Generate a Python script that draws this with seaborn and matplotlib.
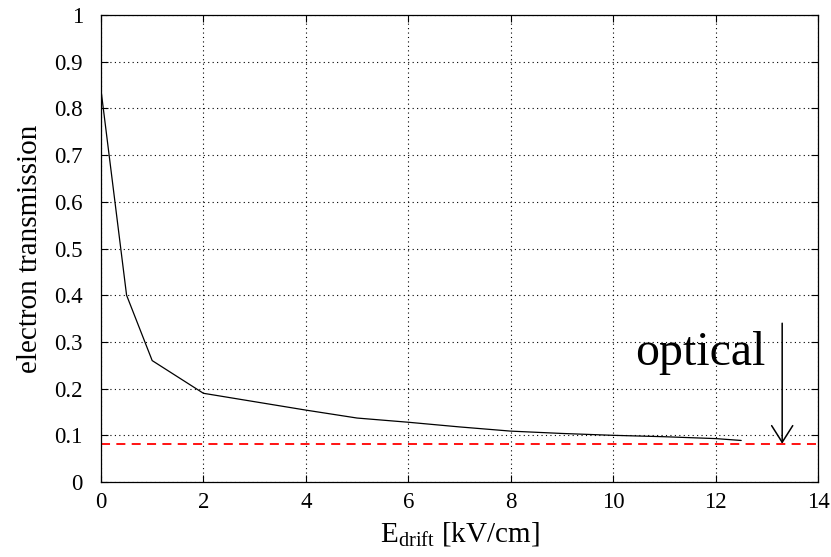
import matplotlib
matplotlib.use("Agg")
import matplotlib.pyplot as plt
import seaborn as sns
import pandas as pd
import numpy as np

# Data
e_drift = [0, 0.5, 1, 2, 3, 4, 5, 6, 7, 8, 9, 10, 11, 12, 12.5]
transmission = [0.84, 0.40, 0.26, 0.19, 0.172, 0.154, 0.137, 0.128, 0.118,
                0.109, 0.104, 0.100, 0.097, 0.093, 0.089]
optical_level = 0.082
x_ticks = [0, 2, 4, 6, 8, 10, 12, 14]
y_ticks = [0, 0.1, 0.2, 0.3, 0.4, 0.5, 0.6, 0.7, 0.8, 0.9, 1]
y_tick_labels = ["0", "0.1", "0.2", "0.3", "0.4", "0.5", "0.6", "0.7", "0.8", "0.9", "1"]
x_tick_labels = ["0", "2", "4", "6", "8", "10", "12", "14"]

sns.set_style("ticks")
plt.rcParams["font.family"] = ["Liberation Serif", "DejaVu Serif"]
plt.rcParams["mathtext.fontset"] = "custom"
plt.rcParams["mathtext.rm"] = "Liberation Serif"
plt.rcParams["mathtext.it"] = "Liberation Serif"
plt.rcParams["text.color"] = "black"
plt.rcParams["axes.labelcolor"] = "black"
plt.rcParams["xtick.color"] = "black"
plt.rcParams["ytick.color"] = "black"

fig = plt.figure(figsize=(8.31, 5.57), dpi=100)
ax = fig.add_axes([0.1215, 0.1346, 0.8629, 0.8385])

df = pd.DataFrame({"E": e_drift, "T": transmission})
sns.lineplot(data=df, x="E", y="T", ax=ax, color="black", linewidth=0.9)
ax.axhline(optical_level, color="#ff0000", linestyle=(0, (5, 3.5)), linewidth=1.3)

ax.annotate("", xy=(13.3, optical_level), xytext=(13.3, 0.34),
            arrowprops=dict(arrowstyle="->,head_length=0.6,head_width=0.38",
                            color="black", lw=1.1, mutation_scale=20,
                            shrinkA=0, shrinkB=0))
ax.text(10.43, 0.25, "optical", fontsize=34.5, ha="left", va="baseline", color="black")

ax.set_xlim(0, 14)
ax.set_ylim(0, 1)
ax.set_xticks(x_ticks)
ax.set_xticklabels(x_tick_labels)
ax.set_yticks(y_ticks)
ax.set_yticklabels(y_tick_labels)
ax.tick_params(axis="both", direction="in", length=5, width=0.8, labelsize=16.5,
               top=True, right=True, colors="black")
ax.tick_params(axis="y", pad=13)
ax.tick_params(axis="x", pad=7)
ax.grid(True, color="black", linestyle=(0, (1, 3)), linewidth=0.8)
for s in ax.spines.values():
    s.set_visible(True)
    s.set_color("black")
    s.set_linewidth(0.9)

ax.set_xlabel(r"E$_{\mathrm{drift}}$ [kV/cm]", fontsize=21, labelpad=5, color="black")
ax.set_ylabel("electron transmission", fontsize=21, labelpad=8, color="black")

fig.savefig("out.png", dpi=100, facecolor="white")
